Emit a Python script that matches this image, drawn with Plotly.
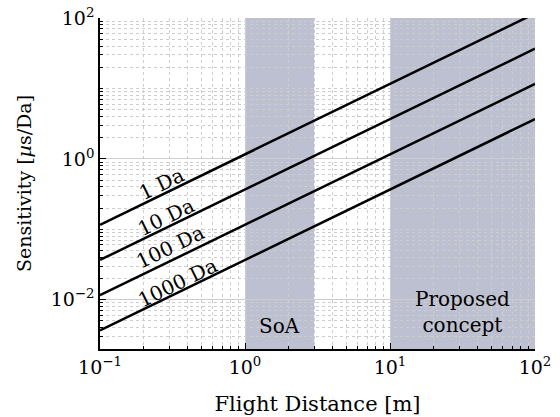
import math
import plotly.graph_objects as go

# Data
distance_m = [0.1, 100]
sens_1da = [0.116, 116]
sens_10da = [0.0367, 36.7]
sens_100da = [0.0116, 11.6]
sens_1000da = [0.00367, 3.67]
series_names = ["1 Da", "10 Da", "100 Da", "1000 Da"]
series_values = [sens_1da, sens_10da, sens_100da, sens_1000da]
label_x = [0.264, 0.285, 0.304, 0.34]
label_y = [0.44, 0.150, 0.0565, 0.0174]
soa_range = [1, 3]
proposed_range = [10, 100]
x_tickvals = [0.1, 1, 10, 100]
x_ticktext = ["10<sup>−1</sup>", "10<sup>0</sup>", "10<sup>1</sup>", "10<sup>2</sup>"]
y_tickvals = [0.01, 1, 100]
y_ticktext = ["10<sup>−2</sup>", "10<sup>0</sup>", "10<sup>2</sup>"]

FONT = "DejaVu Serif"
fig = go.Figure()

for name, vals in zip(series_names, series_values):
    fig.add_trace(go.Scatter(x=distance_m, y=vals, mode="lines", name=name,
                             line=dict(color="black", width=2.5), showlegend=False,
                             hoverinfo="skip"))

shade = "rgba(178,181,201,0.85)"
for rng in (soa_range, proposed_range):
    fig.add_shape(type="rect", xref="x", yref="paper", x0=rng[0], x1=rng[1], y0=0, y1=1,
                  fillcolor=shade, line=dict(width=0), layer="below")

for name, lx, ly in zip(series_names, label_x, label_y):
    fig.add_annotation(x=math.log10(lx), y=math.log10(ly), xref="x", yref="y", text=name,
                       showarrow=False, textangle=-26,
                       font=dict(family=FONT, size=20, color="black"))

fig.add_annotation(x=math.log10(1.73), y=math.log10(0.0043), xref="x", yref="y", text="SoA",
                   showarrow=False, font=dict(family=FONT, size=20, color="black"))
fig.add_annotation(x=math.log10(31.6), y=math.log10(0.0068), xref="x", yref="y",
                   text="Proposed<br>concept", showarrow=False,
                   font=dict(family=FONT, size=20, color="black"))

axis_common = dict(
    type="log", showline=True, linecolor="black", linewidth=1.5,
    ticks="inside", ticklen=6, tickcolor="black", tickwidth=1,
    showgrid=True, gridcolor="rgba(205,205,205,1)", gridwidth=1,
    mirror=False, zeroline=False, automargin=False, ticklabeloverflow="allow",
    tickfont=dict(family=FONT, size=19, color="black"),
    minor=dict(ticks="inside", ticklen=3, tickcolor="black", showgrid=True,
               gridcolor="rgba(205,205,205,1)", griddash="dot", dtick="D1"),
)

fig.update_xaxes(**axis_common, range=[-1, 2], tickvals=x_tickvals, ticktext=x_ticktext,
                 title=dict(text="Flight Distance [m]", font=dict(family=FONT, size=21, color="black"),
                            standoff=20))
fig.update_yaxes(**axis_common, range=[-2.699, 2], tickvals=y_tickvals, ticktext=y_ticktext,
                 title=dict(text="Sensitivity [<i>µ</i>s/Da]", font=dict(family=FONT, size=19, color="black"),
                            standoff=14))

fig.update_layout(width=560, height=417, margin=dict(l=100, r=25, t=18, b=68),
                  plot_bgcolor="white", paper_bgcolor="white", hovermode=False)

fig.write_html("out.html", config={"displayModeBar": False},
               post_script="document.body.style.margin='0';")
